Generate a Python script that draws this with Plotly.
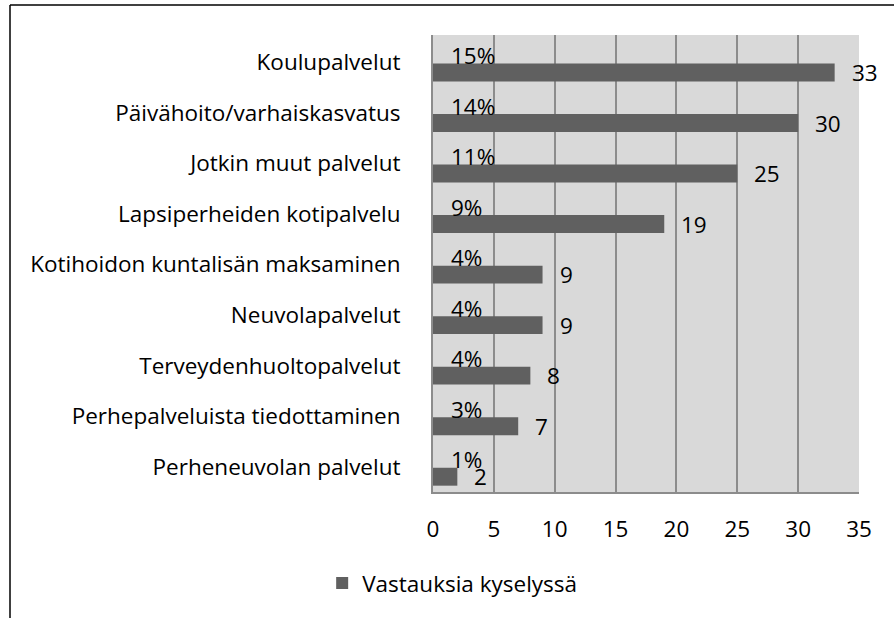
import plotly.graph_objects as go

categories = [
    "Koulupalvelut",
    "Päivähoito/varhaiskasvatus",
    "Jotkin muut palvelut",
    "Lapsiperheiden kotipalvelu",
    "Kotihoidon kuntalisän maksaminen",
    "Neuvolapalvelut",
    "Terveydenhuoltopalvelut",
    "Perhepalveluista tiedottaminen",
    "Perheneuvolan palvelut",
]
values = [33, 30, 25, 19, 9, 9, 8, 7, 2]
percent_labels = ["15%", "14%", "11%", "9%", "4%", "4%", "4%", "3%", "1%"]
series_name = "Vastauksia kyselyssä"
x_ticks = [0, 5, 10, 15, 20, 25, 30, 35]

FONT = "Open Sans"
FS = 22.5
BAR = "#606060"
GRID = "#8C8C8C"

fig = go.Figure()
fig.add_trace(go.Bar(
    y=categories, x=values, orientation="h", name=series_name,
    marker=dict(color=BAR, line=dict(width=0)),
    offset=0.02, width=0.355, hoverinfo="skip",
))

annotations = []
for c, v, p in zip(categories, values, percent_labels):
    annotations.append(dict(x=v, y=c, xref="x", yref="y", text=str(v),
                            showarrow=False, xanchor="left", yanchor="middle",
                            xshift=15, yshift=-10,
                            font=dict(family=FONT, size=FS, color="#000")))
    annotations.append(dict(x=0, y=c, xref="x", yref="y", text=p,
                            showarrow=False, xanchor="left", yanchor="middle",
                            xshift=16, yshift=7,
                            font=dict(family=FONT, size=FS, color="#000")))

fig.update_layout(
    width=894, height=618,
    margin=dict(l=433, r=35, t=35, b=126),
    paper_bgcolor="#FFFFFF", plot_bgcolor="#D9D9D9",
    font=dict(family=FONT, size=FS, color="#000"),
    showlegend=True,
    legend=dict(orientation="h", x=0.045, xanchor="center", y=-0.2, yanchor="middle",
                font=dict(family=FONT, size=FS, color="#000"), itemclick=False),
    annotations=annotations,
    shapes=[
        dict(type="line", xref="paper", yref="paper", x0=(10 - 433) / 426, x1=(894 - 433) / 426,
             y0=1 + 30 / 457, y1=1 + 30 / 457, line=dict(color="#000", width=1.5)),
        dict(type="line", xref="paper", yref="paper", x0=(10 - 433) / 426, x1=(10 - 433) / 426,
             y0=1 + 30 / 457, y1=-126 / 457, line=dict(color="#000", width=1.5)),
    ],
    xaxis=dict(range=[0, 35], tickvals=x_ticks, showgrid=True, gridcolor=GRID, gridwidth=2,
               zeroline=False, showline=True, linecolor=GRID, linewidth=2,
               ticks="", ticklabelstandoff=16, fixedrange=True),
    yaxis=dict(categoryorder="array", categoryarray=categories, autorange="reversed",
               showgrid=False, zeroline=False, showline=True, linecolor=GRID, linewidth=2,
               ticks="", ticklabelstandoff=26, fixedrange=True),
    hovermode=False,
)

fig.write_html("out.html", config={"displayModeBar": False},
               post_script="document.body.style.margin='0px';")
